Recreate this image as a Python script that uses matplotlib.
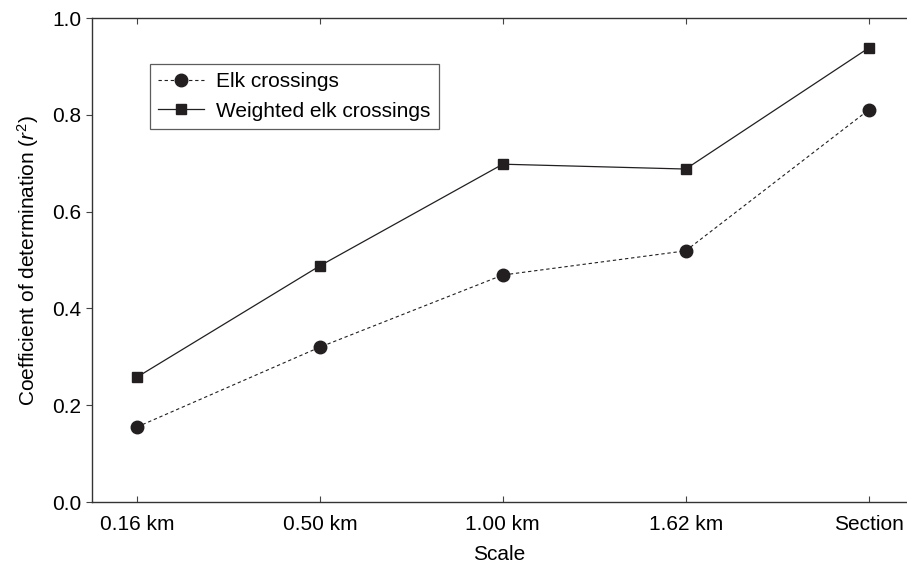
import matplotlib
matplotlib.use("Agg")
import matplotlib.pyplot as plt

# valores
escalas = ['0.16 km', '0.50 km', '1.00 km', '1.62 km', 'Section']
elk = [0.155, 0.32, 0.469, 0.519, 0.81]
elk_pond = [0.258, 0.488, 0.698, 0.688, 0.938]

plt.rcParams['font.family'] = ['Liberation Sans', 'DejaVu Sans']
plt.rcParams['mathtext.fontset'] = 'custom'
plt.rcParams['mathtext.rm'] = 'Liberation Sans'
plt.rcParams['mathtext.it'] = 'Liberation Sans:italic'

color = '#231f20'
fig = plt.figure(figsize=(9.07, 5.67), dpi=100)
ax = fig.add_axes([0.1014, 0.1146, 0.8986, 0.8536])

x = list(range(len(escalas)))
ax.plot(x, elk, linestyle=(0, (3, 2.5)), linewidth=0.8, color=color,
        marker='o', markersize=9, label='Elk crossings')
ax.plot(x, elk_pond, linestyle='-', linewidth=0.9, color=color,
        marker='s', markersize=7.5, label='Weighted elk crossings')

ax.set_xlim(-0.246, 4.21)
ax.set_ylim(0, 1.0)
ax.set_xticks(x)
ax.set_xticklabels(escalas)
ax.set_yticks([0.0, 0.2, 0.4, 0.6, 0.8, 1.0])
ax.set_yticklabels(['0.0', '0.2', '0.4', '0.6', '0.8', '1.0'])
ax.tick_params(axis='x', direction='in', top=True, labelsize=15, pad=9, length=4, color='#444444')
ax.tick_params(axis='y', direction='out', labelsize=15, length=4, color='#444444')
ax.spines['right'].set_visible(False)
for s in ['left', 'bottom', 'top']:
    ax.spines[s].set_linewidth(1.0)
    ax.spines[s].set_color('#333333')

ax.set_xlabel('Scale', fontsize=15, labelpad=8)
ax.set_ylabel(r'Coefficient of determination ($r^2$)', fontsize=15, labelpad=8)

leg = ax.legend(loc='upper left', bbox_to_anchor=(0.058, 0.927), fontsize=15,
                frameon=True, fancybox=False, edgecolor='#333333',
                handlelength=2.2, handletextpad=0.6, borderpad=0.4,
                labelspacing=0.5)
leg.get_frame().set_linewidth(0.9)

fig.savefig('out.png', dpi=100)
